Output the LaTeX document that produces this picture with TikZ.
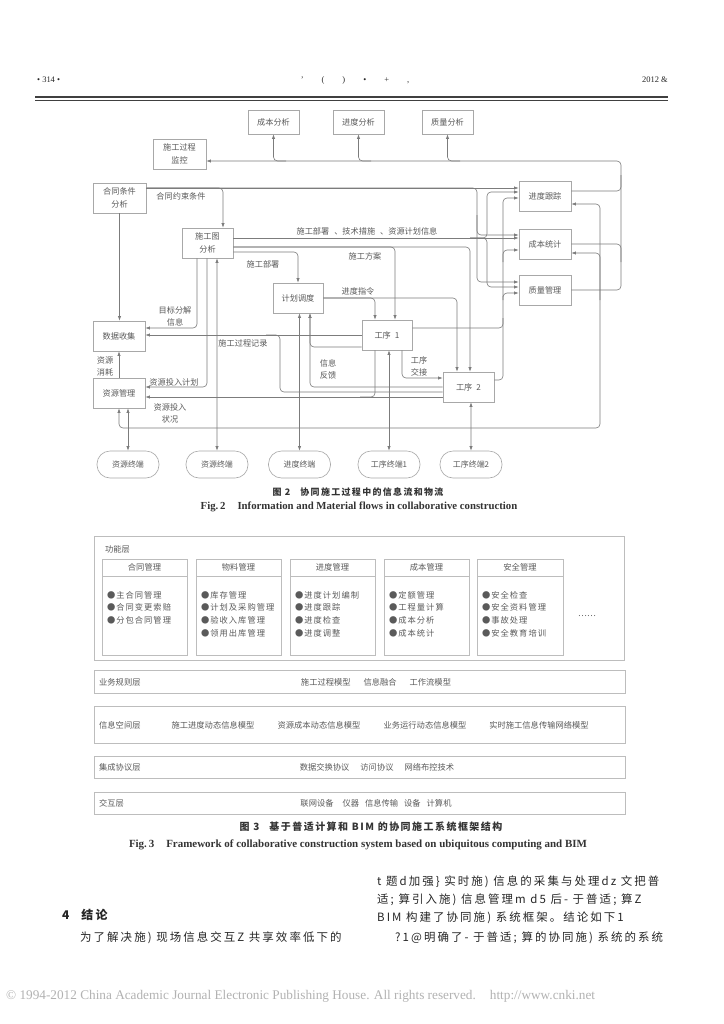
\documentclass[tikz,border=0pt]{standalone}
\usepackage{fontspec}
\setmainfont{Liberation Serif}
\newfontfamily\cjk{Noto Sans CJK SC}
\newfontfamily\cjkcap[LetterSpace=15]{Noto Sans CJK SC}
\newfontfamily\cjkitem[LetterSpace=12]{Noto Sans CJK SC}
\newfontfamily\cjkbody[LetterSpace=18]{Noto Sans CJK SC}
\usetikzlibrary{arrows.meta,calc}
\definecolor{ln}{HTML}{7C7C7C}
\definecolor{tx}{HTML}{5A5A5A}
\definecolor{bx}{HTML}{A8A8A8}
\definecolor{fb}{HTML}{BDBDBD}
\begin{document}
\begin{tikzpicture}[x=1bp,y=-1bp,
  lbl/.style={font=\cjk\fontsize{8.2}{12}\selectfont, text=tx, inner sep=0pt, align=center},
  box/.style={draw=bx, line width=0.6bp, fill=white, font=\cjk\fontsize{8.2}{13}\selectfont, text=tx, align=center, inner sep=0pt, minimum width=52bp, minimum height=30bp},
  term/.style={draw=bx, line width=0.6bp, rounded corners=13bp, minimum width=62bp, minimum height=27bp, font=\cjk\fontsize{8}{9}\selectfont, text=tx, inner sep=0pt},
  con/.style={draw=ln, line width=0.6bp, rounded corners=4bp},
  arr/.style={con, -{Latex[length=4.5bp,width=3.2bp]}},
  barr/.style={con, {Latex[length=4.5bp,width=3.2bp]}-{Latex[length=4.5bp,width=3.2bp]}},
  hdr/.style={font=\fontsize{8.5}{10}\selectfont, text=black!85, inner sep=0pt},
  f3/.style={draw=fb, line width=0.8bp},
  f3t/.style={font=\cjk\fontsize{8.3}{12.7}\selectfont, text=tx, inner sep=0pt},
  f3i/.style={font=\cjkitem\fontsize{8.3}{12.7}\selectfont, text=tx, inner sep=0pt, anchor=north west, align=left},
  body/.style={font=\cjkbody\fontsize{11.5}{14}\selectfont, text=black!85, inner sep=0pt, anchor=west},
]
\useasboundingbox (0,0) rectangle (724,1024);
\fill[white] (0,0) rectangle (724,1024);

% ---------- header ----------
\node[hdr, anchor=west] (pg) at (37,80) {• 314 •};
\node[hdr] (jn) at (355,80) {'\hspace{18bp}(\hspace{18bp})\hspace{18bp}•\hspace{18bp}+\hspace{18bp},};
\node[hdr, anchor=east] (yr) at (668,80) {2012 \&};
\draw[line width=1.2bp, black!75] (35,97) -- (668,97);
\draw[line width=0.5bp, black!75] (35,100.5) -- (668,100.5);

% ---------- Fig. 2 nodes ----------
\node[box, minimum width=51bp, minimum height=24bp] (cbfx) at (273.5,122) {成本分析};
\node[box, minimum width=51bp, minimum height=24bp] (jdfx) at (358.5,122) {进度分析};
\node[box, minimum width=51bp, minimum height=24bp] (zlfx) at (447.5,122) {质量分析};
\node[box, minimum width=53bp] (jk) at (179.5,154) {施工过程\\监控};
\node[box, minimum width=53bp] (ht) at (119.5,198) {合同条件\\分析};
\node[box, minimum width=51bp] (sgt) at (207.5,243) {施工图\\分析};
\node[box, minimum width=50bp] (jh) at (298,298) {计划调度};
\node[box] (sj) at (119,336) {数据收集};
\node[box, minimum width=50bp] (gx1) at (387,335) {工序\hspace{4bp}1};
\node[box, minimum width=51bp] (gx2) at (468.5,387) {工序\hspace{4bp}2};
\node[box] (zy) at (119,393) {资源管理};
\node[box] (jdgz) at (545,196) {进度跟踪};
\node[box] (cbtj) at (545,244) {成本统计};
\node[box] (zlgl) at (545,290) {质量管理};
\node[term] (zy1) at (128,464.5) {资源终端};
\node[term] (zy2) at (217,464.5) {资源终端};
\node[term] (jdzd) at (299.5,464.5) {进度终端};
\node[term] (gxzd1) at (389,464.5) {工序终端1};
\node[term] (gxzd2) at (471,464.5) {工序终端2};

% ---------- Fig. 2 connectors ----------
% monitoring loop
\draw[arr] (zlgl.east) -| (621,175) |- ($(jk.east)+(0,7)$);
\draw[con] ($(jdgz.east)+(0,-5)$) -| (621,175);
\draw[con] (cbtj.east) -| (621,262);
\draw[arr] (286,161) -| (cbfx.south);
\draw[arr] (371,161) -| (jdfx.south);
\draw[arr] (460,161) -| (zlfx.south);
% resource loop
\draw[barr] (zy.south) |- (600,428) |- ($(jdgz.east)+(0,8)$);
\draw[arr] (600,300) |- ($(cbtj.east)+(0,9)$);
% contract constraints
\draw[arr] ($(ht.east)+(0,-10)$) -- ($(jdgz.west)+(0,-8)$);
\draw[arr] ($(ht.east)+(0,-10)$) -| ($(sgt.north)+(15.5,0)$);
\draw[arr] ($(ht.east)+(0,-10)$) -| (477,250) |- ($(zlgl.west)+(0,-8)$);
\draw[arr] (477,215) |- ($(cbtj.west)+(0,-9)$);
\node[lbl] (lhtys) at (181,196) {合同约束条件};
% construction drawing outputs
\draw[arr] ($(sgt.east)+(0,-5)$) -- ($(cbtj.west)+(0,-6)$);
\draw[arr] (470,238) -| (487,215) |- ($(jdgz.west)+(0,-4)$);
\draw[arr] (470,238) -| (487,260) |- ($(zlgl.west)+(0,-3)$);
\node[lbl] (lbs) at (367,231) {施工部署\hspace{5bp}、技术措施\hspace{5bp}、资源计划信息};
\draw[arr] ($(sgt.east)+(0,4)$) -| ($(gx1.north)+(8,0)$);
\draw[arr] ($(sgt.east)+(0,4)$) -| ($(gx2.north)+(1.5,0)$);
\node[lbl] (lfa) at (365,256) {施工方案};
\draw[arr] ($(sgt.east)+(0,9)$) -| (jh.north);
\node[lbl] (lbs2) at (263,264) {施工部署};
% schedule instructions
\draw[arr] (jh.east) -| ($(gx1.north)+(-12,0)$);
\draw[arr] (jh.east) -| ($(gx2.north)+(-11.5,0)$);
\node[lbl] (ljd) at (358,291) {进度指令};
% process to tracking boxes
\draw[arr] ($(gx2.east)+(0,-7)$) -| (503,300) |- ($(zlgl.west)+(0,3)$);
\draw[arr] (503,300) |- ($(cbtj.west)+(0,6)$);
\draw[arr] (503,262) |- ($(jdgz.west)+(0,2)$);
\draw[con] ($(gx1.east)+(0,-7)$) -| (503,318);
% left column
\draw[arr] (ht.south) -- (ht.south |- sj.north);
\draw[arr] (zy.north) -- (sj.south);
\node[lbl] (lxh) at (105,366) {资源\\消耗};
\draw[arr] ($(sgt.south)+(-10.5,0)$) |- ($(sj.east)+(0,-8)$);
\node[lbl] (lmb) at (175,316) {目标分解\\信息};
\draw[arr] ($(sgt.south)+(-0.5,0)$) |- ($(zy.east)+(0,-6)$);
\node[lbl] (ljh) at (174,382) {资源投入计划};
\draw[barr] ($(sgt.south)+(9.5,0)$) -- (zy2.north);
\draw[barr] ($(zy.south)+(9,0)$) -- (zy1.north);
% construction record
\draw[arr] (gx1.west) -- (gx1.west -| sj.east);
\draw[con] ($(gx2.west)+(0,5)$) -| (280,335) -- (266,335);
\node[lbl] (ljl) at (243,343) {施工过程记录};
% feedback
\draw[arr] ($(gx1.west)+(0,12)$) -| ($(jh.south)+(12,0)$);
\draw[arr] (gx2.west) -| ($(jh.south)+(12,0)$);
\node[lbl] (lfk) at (328,369) {信息\\反馈};
\draw[barr] ($(jh.south)+(1.5,0)$) -- (jdzd.north);
% handover
\draw[arr] ($(gx1.south)+(15,0)$) |- ($(gx2.west)+(0,-9)$);
\node[lbl] (ljj) at (419,366) {工序\\交接};
\draw[barr] ($(gx1.south)+(2,0)$) -- (gxzd1.north);
\draw[barr] ($(gx2.south)+(2.5,0)$) -- (gxzd2.north);
% resource input status
\draw[arr] ($(gx2.west)+(0,10)$) -- ($(zy.east)+(0,4)$);
\draw[con] ($(gx1.south)+(-12,0)$) |- (360,397);
\node[lbl] (lzk) at (170,413) {资源投入\\状况};

% captions Fig. 2
\node[font=\cjkcap\bfseries\fontsize{9}{11}\selectfont, text=black!80, inner sep=0pt] (cap2) at (358,492) {图 2\hspace{10bp}协同施工过程中的信息流和物流};
\node[font=\bfseries\fontsize{10.8}{12}\selectfont, text=black!80, inner sep=0pt] (cap2e) at (359,507) {Fig.\,2\hspace{12bp}Information and Material flows in collaborative construction};

% ---------- Fig. 3 ----------
\draw[f3] (94,536) rectangle (624,660);
\node[f3t, anchor=west] (gnc) at (105,549) {功能层};
% modules
\draw[f3] (102,559) rectangle (187,655); \draw[f3] (102,576) -- (187,576);
\node[f3t] (m1) at (144.5,567.5) {合同管理};
\node[f3i] (m1i) at (107,591) {●主合同管理\\●合同变更索赔\\●分包合同管理};
\draw[f3] (196,559) rectangle (281,655); \draw[f3] (196,576) -- (281,576);
\node[f3t] (m2) at (238.5,567.5) {物料管理};
\node[f3i] (m2i) at (201,591) {●库存管理\\●计划及采购管理\\●验收入库管理\\●领用出库管理};
\draw[f3] (290,559) rectangle (375,655); \draw[f3] (290,576) -- (375,576);
\node[f3t] (m3) at (332.5,567.5) {进度管理};
\node[f3i] (m3i) at (295,591) {●进度计划编制\\●进度跟踪\\●进度检查\\●进度调整};
\draw[f3] (384,559) rectangle (469,655); \draw[f3] (384,576) -- (469,576);
\node[f3t] (m4) at (426.5,567.5) {成本管理};
\node[f3i] (m4i) at (389,591) {●定额管理\\●工程量计算\\●成本分析\\●成本统计};
\draw[f3] (477,559) rectangle (563,655); \draw[f3] (477,576) -- (563,576);
\node[f3t] (m5) at (520,567.5) {安全管理};
\node[f3i] (m5i) at (482,591) {●安全检查\\●安全资料管理\\●事故处理\\●安全教育培训};
\node[f3t] (dots) at (587,616) {……};
% layers
\draw[f3] (94,670) rectangle (625,693);
\node[f3t, anchor=west] (l1) at (99,682) {业务规则层};
\node[f3t] (l1c) at (376,682) {施工过程模型\hspace{13bp}信息融合\hspace{13bp}工作流模型};
\draw[f3] (94,706) rectangle (625,743);
\node[f3t, anchor=west] (l2) at (99,725) {信息空间层};
\node[f3t] (l2a) at (213,725) {施工进度动态信息模型};
\node[f3t] (l2b) at (319,725) {资源成本动态信息模型};
\node[f3t] (l2c) at (425,725) {业务运行动态信息模型};
\node[f3t] (l2d) at (539,725) {实时施工信息传输网络模型};
\draw[f3] (94,756) rectangle (625,778);
\node[f3t, anchor=west] (l3) at (99,767) {集成协议层};
\node[f3t] (l3c) at (377,767) {数据交换协议\hspace{11bp}访问协议\hspace{11bp}网络布控技术};
\draw[f3] (94,792) rectangle (625,814);
\node[f3t, anchor=west] (l4) at (99,803) {交互层};
\node[f3t] (l4c) at (376,803) {联网设备\hspace{9bp}仪器\hspace{6bp}信息传输\hspace{6bp}设备\hspace{6bp}计算机};
% captions Fig. 3
\node[font=\cjkcap\bfseries\fontsize{10}{11}\selectfont, text=black!80, inner sep=0pt] (cap3) at (371,827) {图 3\hspace{10bp}基于普适计算和 BIM 的协同施工系统框架结构};
\node[font=\bfseries\fontsize{11}{12}\selectfont, text=black!80, inner sep=0pt] (cap3e) at (358,845) {Fig.\,3\hspace{12bp}Framework of collaborative construction system based on ubiquitous computing and BIM};

% ---------- body text ----------
\node[body, font=\cjkbody\bfseries\fontsize{12}{14}\selectfont] (sec) at (62,915) {4\hspace{12bp}结论};
\node[body] (p1) at (80,938) {为了解决施)\ 现场信息交互Z\ 共享效率低下的};
\node[body] (r1) at (377,882) {t\ 题d加强\}\ 实时施)\ 信息的采集与处理dz\ 文把普};
\node[body] (r2) at (377,900) {适;\ 算引入施)\ 信息管理m d5\ 后-\ 于普适;\ 算Z};
\node[body] (r3) at (377,918) {BIM 构建了协同施)\ 系统框架。结论如下1};
\node[body] (r4) at (395,938) {?1@明确了-\ 于普适;\ 算的协同施)\ 系统的系统};
\node[font=\fontsize{13.3}{15}\selectfont, text=black!30, inner sep=0pt, anchor=west] (copy) at (6,996) {© 1994-2012 China Academic Journal Electronic Publishing House. All rights reserved.\hspace{14bp}http://www.cnki.net};
\end{tikzpicture}
\end{document}
